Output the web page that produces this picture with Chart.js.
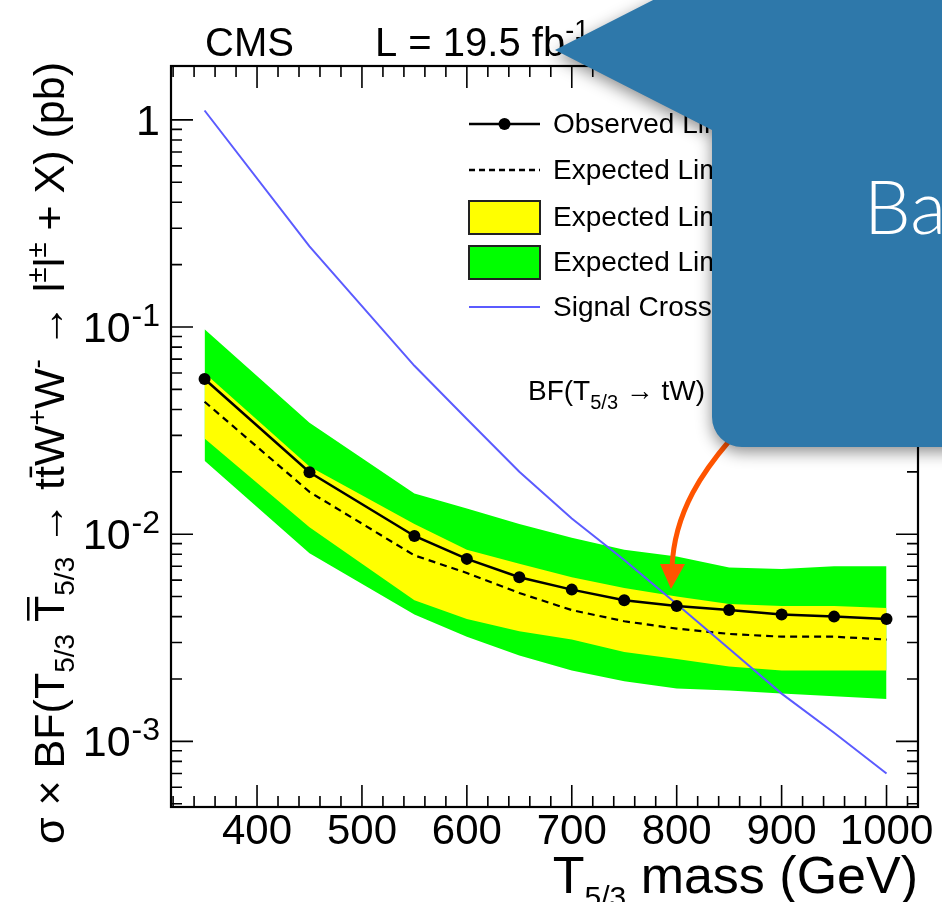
<!DOCTYPE html>
<html>
<head>
<meta charset="utf-8">
<script src="https://cdn.jsdelivr.net/npm/chart.js@4.4.1/dist/chart.umd.min.js"></script>
<style>
html, body { margin: 0; padding: 0; background: #fff; }
canvas { display: block; }
</style>
</head>
<body>
<canvas id="limitChart" width="942" height="902"></canvas>
<script>
// T5/3 mass points (GeV) and limits (pb)
const MASS = [350, 450, 550, 600, 650, 700, 750, 800, 850, 900, 950, 1000];
const OBSERVED = [0.0561, 0.0199, 0.0098, 0.0076, 0.0062, 0.0054, 0.0048, 0.0045, 0.0043, 0.0041, 0.0040, 0.0039];
const EXPECTED = [0.0436, 0.0160, 0.0079, 0.0065, 0.0052, 0.0043, 0.0038, 0.0035, 0.0033, 0.0032, 0.0032, 0.0031];
const EXP_1S_UP = [0.0600, 0.0212, 0.0112, 0.0084, 0.0072, 0.0062, 0.0055, 0.0050, 0.0046, 0.0045, 0.0045, 0.0044];
const EXP_1S_DOWN = [0.0290, 0.0108, 0.0048, 0.0039, 0.0034, 0.0031, 0.0027, 0.0025, 0.0023, 0.0022, 0.0022, 0.0022];
const EXP_2S_UP = [0.0975, 0.0345, 0.0157, 0.0133, 0.0112, 0.0096, 0.0084, 0.0078, 0.0069, 0.0068, 0.0070, 0.0070];
const EXP_2S_DOWN = [0.0226, 0.0081, 0.0041, 0.0032, 0.0026, 0.0022, 0.00195, 0.0018, 0.00176, 0.0017, 0.00165, 0.0016];
const SIGNAL = [1.11, 0.245, 0.065, 0.036, 0.020, 0.0119, 0.0075, 0.0046, 0.0028, 0.0017, 0.0011, 0.0007];

const X_TICKS = [400, 500, 600, 700, 800, 900, 1000];
const Y_TICKS = [0.001, 0.01, 0.1, 1];
const Y_TICK_EXP = ['-3', '-2', '-1', ''];
const LEGEND_LABELS = ['Observed Limit', 'Expected Limit', 'Expected Limit ±1σ', 'Expected Limit ±2σ', 'Signal Cross Section'];

const FONT = "'Liberation Sans', Arial, Helvetica, sans-serif";

const pts = arr => MASS.map((m, i) => ({ x: m, y: arr[i] }));

// draws a run of text pieces (sub/superscripts, overlines); returns width
function drawRich(ctx, parts, x, y, base, measureOnly) {
    let cx = x;
    parts.forEach(p => {
        const size = p.s || base;
        ctx.font = size + 'px ' + FONT;
        const w = ctx.measureText(p.t).width;
        if (!measureOnly) {
            ctx.fillText(p.t, cx, y + (p.dy || 0));
            if (p.bar) ctx.fillRect(cx + w * 0.05, y - size * (p.bar), w * 0.9, 2.5);
        }
        cx += w + (p.gap || 0);
    });
    return cx - x;
}

const frameTicks = {
    id: 'frameTicks',
    afterDatasetsDraw(chart) {
        const { ctx, chartArea: a, scales: { x, y } } = chart;
        ctx.save();
        ctx.strokeStyle = '#000';
        ctx.lineWidth = 1.6;
        ctx.beginPath();
        for (let v = 320; v <= 1020; v += 20) {
            const px = x.getPixelForValue(v);
            const len = v % 100 === 0 ? 22 : 11;
            ctx.moveTo(px, a.bottom); ctx.lineTo(px, a.bottom - len);
            ctx.moveTo(px, a.top); ctx.lineTo(px, a.top + len);
        }
        for (let e = -4; e <= 0; e++) {
            for (let m = 1; m <= 9; m++) {
                const v = m * Math.pow(10, e);
                if (v < y.min || v > y.max) continue;
                const py = y.getPixelForValue(v);
                const len = m === 1 ? 22 : 11;
                ctx.moveTo(a.left, py); ctx.lineTo(a.left + len, py);
                ctx.moveTo(a.right, py); ctx.lineTo(a.right - len, py);
            }
        }
        ctx.stroke();
        ctx.lineWidth = 2.2;
        ctx.strokeRect(a.left, a.top, a.right - a.left, a.bottom - a.top);

        // y tick labels, 10 with raised exponent
        ctx.fillStyle = '#000';
        ctx.textBaseline = 'alphabetic';
        Y_TICKS.forEach((v, i) => {
            const py = y.getPixelForValue(v);
            const parts = Y_TICK_EXP[i] ? [{ t: '10', gap: 1 }, { t: Y_TICK_EXP[i], s: 32, dy: -16 }] : [{ t: '1' }];
            const w = drawRich(ctx, parts, 0, 0, 43, true);
            drawRich(ctx, parts, 160 - w, py + 15, 43);
        });
        ctx.restore();
    }
};

const annotations = {
    id: 'annotations',
    afterDraw(chart) {
        const ctx = chart.ctx;
        ctx.save();
        ctx.fillStyle = '#000';
        ctx.textBaseline = 'alphabetic';
        ctx.textAlign = 'left';

        // header
        ctx.font = '40px ' + FONT;
        ctx.fillText('CMS', 205, 56);
        drawRich(ctx, [{ t: 'L = 19.5 fb' }, { t: '-1', s: 27, dy: -17 }, { t: '    √s = 8 TeV' }], 375, 56, 40);

        // x title
        const xParts = [{ t: 'T' }, { t: '5/3', s: 30, dy: 14 }, { t: ' mass (GeV)' }];
        const xw = drawRich(ctx, xParts, 0, 0, 52, true);
        drawRich(ctx, xParts, 918 - xw, 893, 52);

        // y title (rotated)
        const yParts = [
            { t: 'σ × BF(T' }, { t: '5/3', s: 28, dy: 10 }, { t: ' ' },
            { t: 'T', bar: 0.86 }, { t: '5/3', s: 28, dy: 10 },
            { t: ' → t' }, { t: 't', bar: 0.8 }, { t: 'W' }, { t: '+', s: 28, dy: -18 },
            { t: 'W' }, { t: '-', s: 28, dy: -18 }, { t: ' → l' }, { t: '±', s: 28, dy: -18 },
            { t: 'l' }, { t: '±', s: 28, dy: -18 }, { t: ' + X) (pb)' }
        ];
        const yw = drawRich(ctx, yParts, 0, 0, 43, true);
        ctx.save();
        ctx.translate(64, 62);
        ctx.rotate(-Math.PI / 2);
        drawRich(ctx, yParts, -yw, 0, 43);
        ctx.restore();

        // legend
        const rows = [124, 170, 217, 262, 307];
        const x0 = 469, x1 = 540;
        ctx.lineWidth = 2.5;
        ctx.strokeStyle = '#000';
        ctx.beginPath(); ctx.moveTo(x0, rows[0]); ctx.lineTo(x1, rows[0]); ctx.stroke();
        ctx.beginPath(); ctx.arc((x0 + x1) / 2, rows[0], 6, 0, Math.PI * 2); ctx.fill();
        ctx.setLineDash([6, 4]);
        ctx.beginPath(); ctx.moveTo(x0, rows[1]); ctx.lineTo(x1, rows[1]); ctx.stroke();
        ctx.setLineDash([]);
        ctx.lineWidth = 2;
        ctx.strokeStyle = '#222';
        ctx.fillStyle = '#ffff00';
        ctx.fillRect(x0, rows[2] - 16, x1 - x0, 33); ctx.strokeRect(x0, rows[2] - 16, x1 - x0, 33);
        ctx.fillStyle = '#00ff00';
        ctx.fillRect(x0, rows[3] - 16, x1 - x0, 33); ctx.strokeRect(x0, rows[3] - 16, x1 - x0, 33);
        ctx.strokeStyle = '#5b5bff';
        ctx.beginPath(); ctx.moveTo(x0, rows[4]); ctx.lineTo(x1, rows[4]); ctx.stroke();
        ctx.fillStyle = '#000';
        ctx.font = '28px ' + FONT;
        ctx.textBaseline = 'middle';
        LEGEND_LABELS.forEach((t, i) => ctx.fillText(t, 553, rows[i] + 1));
        ctx.textBaseline = 'alphabetic';

        drawRich(ctx, [{ t: 'BF(T' }, { t: '5/3', s: 20, dy: 9 }, { t: ' → tW) = 100%' }], 528, 400, 28);
        ctx.restore();
    }
};

const overlay = {
    id: 'overlay',
    afterDraw(chart) {
        const ctx = chart.ctx;
        ctx.save();
        // orange arrow
        ctx.strokeStyle = '#ff5400';
        ctx.fillStyle = '#ff5400';
        ctx.lineWidth = 5;
        ctx.beginPath();
        ctx.moveTo(730, 440);
        ctx.bezierCurveTo(706, 468, 674, 510, 672, 568);
        ctx.stroke();
        ctx.beginPath();
        ctx.moveTo(660, 564); ctx.lineTo(685, 564); ctx.lineTo(671, 589); ctx.closePath();
        ctx.fill();

        // callout bubble
        ctx.shadowColor = 'rgba(0,0,0,0.45)';
        ctx.shadowBlur = 16;
        ctx.shadowOffsetY = 5;
        ctx.fillStyle = '#2e78aa';
        ctx.beginPath();
        ctx.moveTo(555, 50);
        ctx.lineTo(712, 130);
        ctx.lineTo(712, 417);
        ctx.arcTo(712, 447, 742, 447, 30);
        ctx.lineTo(980, 447);
        ctx.lineTo(980, -30);
        ctx.lineTo(712, -30);
        ctx.closePath();
        ctx.fill();
        ctx.shadowColor = 'transparent';
        ctx.fillStyle = '#ffffff';
        ctx.font = "300 74px Lato, 'Open Sans', sans-serif";
        ctx.fillText('Ba', 864, 234);
        ctx.restore();
    }
};

new Chart(document.getElementById('limitChart'), {
    type: 'line',
    data: {
        datasets: [
            { label: LEGEND_LABELS[0], data: pts(OBSERVED), borderColor: '#000', borderWidth: 2.5,
              pointRadius: 6, pointBackgroundColor: '#000', pointBorderWidth: 0, fill: false, order: 0 },
            { label: LEGEND_LABELS[4], data: pts(SIGNAL), borderColor: '#5b5bff', borderWidth: 2,
              pointRadius: 0, fill: false, order: 1 },
            { label: LEGEND_LABELS[1], data: pts(EXPECTED), borderColor: '#000', borderWidth: 2.2,
              borderDash: [7, 5], pointRadius: 0, fill: false, order: 2 },
            { label: LEGEND_LABELS[2], data: pts(EXP_1S_UP), borderWidth: 0, pointRadius: 0,
              backgroundColor: '#ffff00', fill: '+1', order: 3 },
            { label: '1s down', data: pts(EXP_1S_DOWN), borderWidth: 0, pointRadius: 0, fill: false, order: 4 },
            { label: LEGEND_LABELS[3], data: pts(EXP_2S_UP), borderWidth: 0, pointRadius: 0,
              backgroundColor: '#00ff00', fill: '+1', order: 5 },
            { label: '2s down', data: pts(EXP_2S_DOWN), borderWidth: 0, pointRadius: 0, fill: false, order: 6 }
        ]
    },
    options: {
        responsive: false,
        animation: false,
        devicePixelRatio: 1,
        layout: { padding: { top: 66, right: 24, left: 0, bottom: 0 } },
        plugins: { legend: { display: false }, tooltip: { enabled: false } },
        scales: {
            x: {
                type: 'linear', min: 318, max: 1030,
                grid: { display: false, drawTicks: false }, border: { display: false },
                ticks: { color: '#000', font: { size: 42, family: FONT }, padding: 0,
                         maxRotation: 0, autoSkip: false, callback: v => String(v) },
                afterBuildTicks: s => { s.ticks = X_TICKS.map(v => ({ value: v })); },
                afterFit: s => { s.height = 95; }
            },
            y: {
                type: 'logarithmic', min: 4.82e-4, max: 1.82,
                grid: { display: false, drawTicks: false }, border: { display: false },
                ticks: { display: false },
                afterBuildTicks: s => { s.ticks = Y_TICKS.map(v => ({ value: v })); },
                afterFit: s => { s.width = 171; }
            }
        }
    },
    plugins: [frameTicks, annotations, overlay]
});
</script>
</body>
</html>
